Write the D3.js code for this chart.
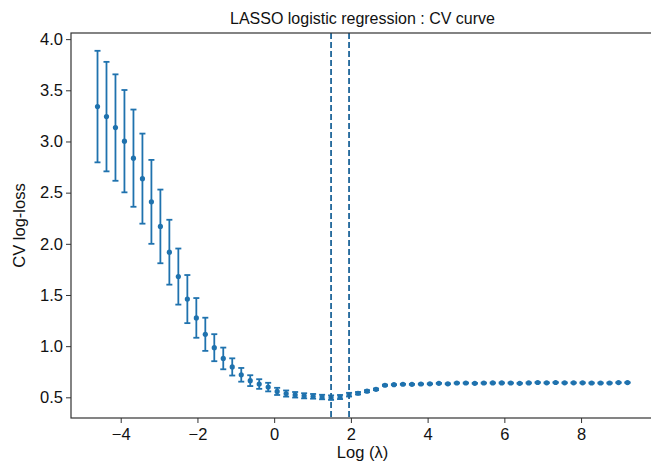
<!DOCTYPE html>
<html>
<head>
<meta charset="utf-8">
<script src="https://cdn.jsdelivr.net/npm/d3@7"></script>
<style>
  body { margin: 0; background: #fff; }
  svg { display: block; font-family: "Liberation Sans", Arial, sans-serif; }
</style>
</head>
<body>
<svg id="chart" width="651" height="464"></svg>
<script>
// log(lambda) grid used in the CV
const logLambda = [
  -4.605, -4.371, -4.137, -3.903, -3.668, -3.434, -3.200, -2.966, -2.732, -2.498,
  -2.263, -2.029, -1.795, -1.561, -1.327, -1.093, -0.858, -0.624, -0.390, -0.156,
  0.078, 0.312, 0.547, 0.781, 1.015, 1.249, 1.483, 1.717, 1.952, 2.186,
  2.420, 2.654, 2.888, 3.122, 3.356, 3.591, 3.825, 4.059, 4.293, 4.527,
  4.761, 4.996, 5.230, 5.464, 5.698, 5.932, 6.166, 6.400, 6.635, 6.869,
  7.103, 7.337, 7.571, 7.805, 8.040, 8.274, 8.508, 8.742, 8.976, 9.210
];

// mean CV log-loss
const cvMean = [
  3.341, 3.243, 3.136, 3.003, 2.837, 2.637, 2.410, 2.170, 1.918, 1.680,
  1.460, 1.276, 1.116, 0.985, 0.880, 0.797, 0.720, 0.663, 0.630, 0.600,
  0.558, 0.537, 0.525, 0.515, 0.510, 0.503, 0.497, 0.503, 0.526, 0.540,
  0.560, 0.578, 0.618, 0.624, 0.628, 0.627, 0.630, 0.632, 0.637, 0.632,
  0.640, 0.640, 0.637, 0.640, 0.641, 0.641, 0.640, 0.637, 0.641, 0.645,
  0.642, 0.645, 0.642, 0.642, 0.642, 0.640, 0.640, 0.640, 0.644, 0.644
];

// standard error of the CV log-loss
const cvErr = [
  0.545, 0.535, 0.520, 0.500, 0.475, 0.440, 0.410, 0.360, 0.317, 0.274,
  0.235, 0.194, 0.162, 0.132, 0.106, 0.084, 0.067, 0.053, 0.047, 0.042,
  0.035, 0.030, 0.027, 0.025, 0.023, 0.022, 0.022, 0.020, 0.018, 0.012,
  0.010, 0.008, 0.006, 0.004, 0.004, 0.004, 0.004, 0.004, 0.004, 0.004,
  0.004, 0.004, 0.004, 0.004, 0.004, 0.004, 0.004, 0.004, 0.004, 0.004,
  0.004, 0.004, 0.004, 0.004, 0.004, 0.004, 0.004, 0.004, 0.004, 0.004
];

// lambda.min and lambda.1se
const refLines = [1.483, 1.952];

const xTicks = [-4, -2, 0, 2, 4, 6, 8];
const yTicks = [0.5, 1.0, 1.5, 2.0, 2.5, 3.0, 3.5, 4.0];

const color = "#1f72ae";
const margin = {top: 33, right: -3, bottom: 46, left: 71};
const width = 651, height = 464;

const svg = d3.select("#chart");

const x = d3.scaleLinear()
    .domain([-5.296, 9.901])
    .range([margin.left, width - margin.right]);
const y = d3.scaleLinear()
    .domain([0.298, 4.06])
    .range([height - margin.bottom, margin.top]);

const data = logLambda.map((l, i) => ({l: l, m: cvMean[i], e: cvErr[i]}));

// error bars
const eb = svg.append("g").attr("stroke", color).attr("stroke-width", 1.8);
eb.selectAll("line.v").data(data).join("line")
    .attr("class", "v")
    .attr("x1", d => x(d.l)).attr("x2", d => x(d.l))
    .attr("y1", d => y(d.m - d.e)).attr("y2", d => y(d.m + d.e));
[-1, 1].forEach(s => {
    eb.selectAll("line.cap" + (s + 1)).data(data).join("line")
        .attr("class", "cap" + (s + 1))
        .attr("x1", d => x(d.l) - 3).attr("x2", d => x(d.l) + 3)
        .attr("y1", d => y(d.m + s * d.e)).attr("y2", d => y(d.m + s * d.e));
});

// points
svg.append("g").selectAll("circle").data(data).join("circle")
    .attr("cx", d => x(d.l)).attr("cy", d => y(d.m))
    .attr("r", 2.6).attr("fill", color);

// reference lines
svg.append("g").selectAll("line").data(refLines).join("line")
    .attr("x1", d => x(d)).attr("x2", d => x(d))
    .attr("y1", margin.top).attr("y2", height - margin.bottom)
    .attr("stroke", "#1f669a").attr("stroke-width", 1.8)
    .attr("stroke-dasharray", "6,3");

// axes
const xAxis = svg.append("g")
    .attr("transform", `translate(0,${height - margin.bottom})`)
    .call(d3.axisBottom(x).tickValues(xTicks).tickFormat(d3.format("d")).tickSizeOuter(0).tickSize(5));
const yAxis = svg.append("g")
    .attr("transform", `translate(${margin.left},0)`)
    .call(d3.axisLeft(y).tickValues(yTicks).tickFormat(d3.format(".1f")).tickSizeOuter(0).tickSize(5));

[xAxis, yAxis].forEach(a => {
    a.selectAll("text").attr("font-size", 16.5).attr("fill", "#111")
        .attr("font-family", "Liberation Sans, Arial, sans-serif");
    a.selectAll("line").attr("stroke", "#333").attr("stroke-width", 1);
    a.select(".domain").remove();
});
xAxis.selectAll("text").attr("dy", "0.85em");

// frame
svg.append("rect")
    .attr("x", margin.left).attr("y", margin.top)
    .attr("width", width - margin.right - margin.left)
    .attr("height", height - margin.bottom - margin.top)
    .attr("fill", "none").attr("stroke", "#333").attr("stroke-width", 1.2);

// labels
svg.append("text")
    .attr("x", (margin.left + width - margin.right) / 2).attr("y", 24)
    .attr("text-anchor", "middle").attr("font-size", 16).attr("fill", "#111")
    .text("LASSO logistic regression : CV curve");
svg.append("text")
    .attr("x", (margin.left + width - margin.right) / 2).attr("y", 458)
    .attr("text-anchor", "middle").attr("font-size", 16.5).attr("fill", "#111")
    .text("Log (λ)");
svg.append("text")
    .attr("transform", `translate(25,${(margin.top + height - margin.bottom) / 2}) rotate(-90)`)
    .attr("text-anchor", "middle").attr("font-size", 16.5).attr("fill", "#111")
    .text("CV log-loss");
</script>
</body>
</html>
